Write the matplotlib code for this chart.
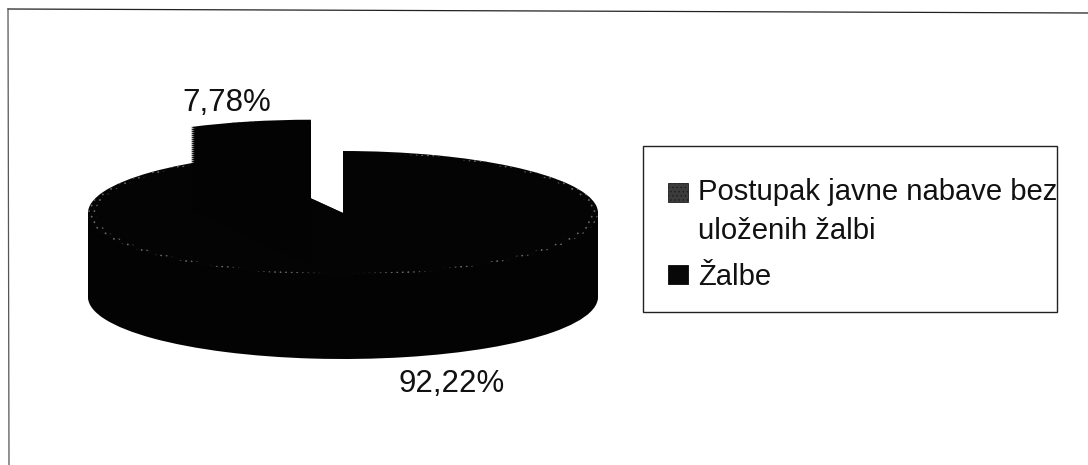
import matplotlib
matplotlib.use("Agg")
import matplotlib.pyplot as plt
from matplotlib.patches import Rectangle
from matplotlib.lines import Line2D

plt.rcParams['font.family'] = ['Liberation Sans', 'DejaVu Sans']
plt.rcParams['hatch.linewidth'] = 0.5

categories = ["Postupak javne nabave bez\nuloženih žalbi", "Žalbe"]
values = [92.22, 7.78]
value_labels = ["92,22%", "7,78%"]
explode = [0, 0.52]

W, H = 1088, 465
RX, RY = 255, 62
CX, CY = 343, 213
DEPTH = 84


def fx(px):
    return px / W


def fy(py):
    return 1 - py / H


fig = plt.figure(figsize=(W / 100, H / 100), dpi=100, facecolor="white")
ax = fig.add_axes([0, 0, 1, 1])
pie_args = dict(x=values, explode=explode, startangle=90, counterclock=False)

# Side of the cylinder: the same pie stacked downward
for d in range(DEPTH, 0, -2):
    ax.pie(center=(0, -d / RY), colors=["#030303", "#030303"],
           wedgeprops=dict(linewidth=0), **pie_args)
# Speckled rim of the top face
ax.pie(colors=["#050505", "none"],
       wedgeprops=dict(linewidth=0, hatch="...", edgecolor="#6a6a6a"), **pie_args)
# Dark interior of the top face
ax.pie(radius=0.97, colors=["#040404", "none"], wedgeprops=dict(linewidth=0), **pie_args)
# Detached slice sits in front of the rim
for d in range(DEPTH, -1, -2):
    ax.pie(center=(0, -d / RY), colors=["none", "#030303"],
           wedgeprops=dict(linewidth=0), **pie_args)

ax.set_aspect("auto")
ax.set_xlim(-CX / RX, (W - CX) / RX)
ax.set_ylim(-(H - CY) / RY, CY / RY)
ax.axis("off")

# Data labels
fig.text(fx(226.5), fy(103), value_labels[1], fontsize=22.5, ha="center", va="center", color="#111111")
fig.text(fx(452), fy(384), value_labels[0], fontsize=22.5, ha="center", va="center", color="#111111")

# Outer frame (slightly skewed scan)
fig.add_artist(Line2D([fx(8), fx(1088)], [fy(9), fy(13)], transform=fig.transFigure,
                      color="#222222", linewidth=0.9))
fig.add_artist(Line2D([fx(8), fx(9)], [fy(9), fy(465)], transform=fig.transFigure,
                      color="#555555", linewidth=0.9))

# Legend box
fig.add_artist(Rectangle((fx(643), fy(312)), fx(414), 166 / H, transform=fig.transFigure,
                         fill=False, edgecolor="#222222", linewidth=1.0))
fig.add_artist(Rectangle((fx(668), fy(202)), fx(20), 19 / H, transform=fig.transFigure,
                         facecolor="#3c3c3c", edgecolor="#1c1c1c", hatch="....", linewidth=0.6))
fig.add_artist(Rectangle((fx(668), fy(284)), fx(20), 19 / H, transform=fig.transFigure,
                         facecolor="#080808", edgecolor="#080808", linewidth=0.6))
fig.text(fx(698), fy(211.5), categories[0], fontsize=21.1, ha="left", va="center",
         linespacing=1.48, color="#111111")
fig.text(fx(698), fy(277), categories[1], fontsize=21.1, ha="left", va="center", color="#111111")

fig.savefig("out.png", dpi=100)
